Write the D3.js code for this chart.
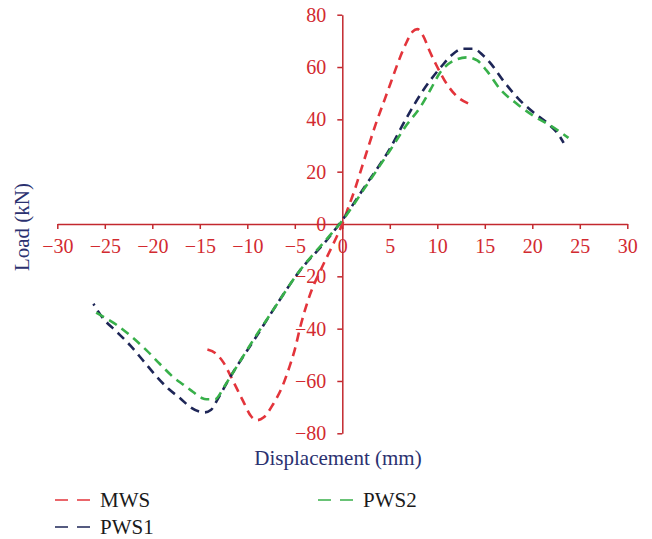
<!DOCTYPE html>
<html>
<head>
<meta charset="utf-8">
<script src="https://cdn.jsdelivr.net/npm/d3@7"></script>
<style>
  body { margin: 0; background: #fff; }
  svg text { font-family: "Liberation Serif", "DejaVu Serif", serif; }
</style>
</head>
<body>
<svg id="chart"></svg>
<script>
const width = 652;
const height = 539;

// Data (displacement mm, load kN)
const mwsX = [-14.2, -13.3, -12.5, -11.5, -10.4, -9.6, -9.0, -8.3, -7.3, -6.3, -5.6, -5.0, -4.4, -3.4, -2.2, -1.0, 0, 0.6, 1.3, 2.0, 2.7, 3.5, 4.3, 5.1, 5.9, 6.7, 7.4, 7.9, 8.5, 9.2, 10.0, 11.0, 12.0, 13.3];
const mwsY = [-48, -49.5, -53, -60, -68, -73.5, -75, -74, -69, -62, -55, -48, -39, -27, -17, -8, 0, 6, 13, 21, 29, 38, 46, 54, 62, 69, 73.5, 74.5, 72, 66, 60, 53.5, 49, 46];

const pws1X = [-26.2, -25.2, -23.8, -22.3, -20.9, -19.5, -18.3, -17.1, -16.0, -14.5, -13.8, -13.2, -11.8, -10.5, -9.4, -7.3, -4.5, -1.6, 0, 2.5, 5.0, 6.8, 8.5, 10.5, 11.5, 12.7, 13.8, 14.8, 15.7, 16.9, 18.5, 20.1, 21.7, 22.7, 23.3];
const pws1Y = [-30.5, -36, -41, -46.5, -52.5, -58.5, -63, -66.5, -70, -72, -71, -67.5, -58.5, -51, -45, -33, -18, -6, 1.5, 15, 28.7, 40.8, 51, 60.5, 64.5, 67, 67, 64.5, 61, 55, 48, 42.7, 38.2, 34.5, 31];

const pws2X = [-26.0, -24.9, -23.7, -22.2, -20.6, -19.2, -17.8, -16.7, -15.7, -14.8, -14.3, -13.4, -12.4, -11.8, -10.6, -9.4, -7.3, -4.45, -1.6, 0, 2.5, 5.0, 6.8, 8.2, 9.3, 10.3, 11.7, 13.1, 14.2, 15.2, 16.6, 18.4, 20.1, 21.9, 23.0, 23.8];
const pws2Y = [-33.7, -36, -38.7, -43, -48.3, -53.5, -58.5, -61.5, -64.2, -66.5, -67, -67, -62, -58.5, -51.5, -44.5, -33, -17.7, -5.6, 1.3, 14.5, 28, 38, 44.6, 51.5, 57.9, 62.4, 63.7, 62.5, 58.6, 51.6, 45.9, 41.4, 37.6, 35, 32.9];

const xTicks = [-30, -25, -20, -15, -10, -5, 0, 5, 10, 15, 20, 25, 30];
const yTicks = [-80, -60, -40, -20, 0, 20, 40, 60, 80];

const series = [
  { name: "MWS", xs: mwsX, ys: mwsY, color: "#e3343b" },
  { name: "PWS1", xs: pws1X, ys: pws1Y, color: "#1e2657" },
  { name: "PWS2", xs: pws2X, ys: pws2Y, color: "#38b04a" }
];

const axisColor = "#c3282e";
const labelColor = "#d22a30";
const titleColor = "#2b3170";

const svg = d3.select("#chart")
  .attr("width", width)
  .attr("height", height);

const x = d3.scaleLinear().domain([-30, 30]).range([57.3, 627.3]);
const y = d3.scaleLinear().domain([-80, 80]).range([433.3, 14.7]);

// --- AXES ---
const xAxis = svg.append("g")
  .attr("transform", `translate(0,${y(0)})`)
  .call(d3.axisBottom(x).tickValues(xTicks).tickSize(5).tickSizeOuter(0).tickPadding(10));

const yAxis = svg.append("g")
  .attr("transform", `translate(${x(0)},0)`)
  .call(d3.axisLeft(y).tickValues(yTicks).tickSize(5).tickSizeOuter(0).tickPadding(11));

[xAxis, yAxis].forEach(g => {
  g.select(".domain").attr("stroke", axisColor).attr("stroke-width", 1.5);
  g.selectAll(".tick line").attr("stroke", axisColor).attr("stroke-width", 1.5);
  g.selectAll(".tick text")
    .attr("fill", labelColor)
    .style("font-size", "20px")
    .style("font-family", "Liberation Serif, serif");
});

// --- LINES ---
const line = d3.line()
  .x(d => x(d[0]))
  .y(d => y(d[1]))
  .curve(d3.curveMonotoneX);

series.forEach((s, i) => {
  const pts = s.xs.map((v, j) => [v, s.ys[j]]);
  svg.append("path")
    .datum(pts)
    .attr("fill", "none")
    .attr("stroke", s.color)
    .attr("stroke-width", 2.6)
    .attr("stroke-dasharray", "9,6")
    .attr("stroke-dashoffset", i * 7)
    .attr("d", line);
});

// --- AXIS TITLES ---
svg.append("text")
  .attr("x", 338)
  .attr("y", 465)
  .attr("text-anchor", "middle")
  .attr("fill", titleColor)
  .style("font-size", "21px")
  .text("Displacement (mm)");

svg.append("text")
  .attr("transform", "translate(29,227) rotate(-90)")
  .attr("text-anchor", "middle")
  .attr("fill", titleColor)
  .style("font-size", "21px")
  .text("Load (kN)");

// --- LEGEND ---
const legendPos = [
  { x: 55, y: 500 },
  { x: 55, y: 527 },
  { x: 318, y: 500 }
];

series.forEach((s, i) => {
  const p = legendPos[i];
  const g = svg.append("g").attr("transform", `translate(${p.x},${p.y})`);
  g.append("line")
    .attr("x1", 0).attr("x2", 35)
    .attr("y1", 0).attr("y2", 0)
    .attr("stroke", s.color)
    .attr("stroke-width", 1.6)
    .attr("stroke-dasharray", "13,9");
  g.append("text")
    .attr("x", 45)
    .attr("y", 7)
    .attr("fill", "#1a1a1a")
    .style("font-size", "21px")
    .text(s.name);
});
</script>
</body>
</html>
